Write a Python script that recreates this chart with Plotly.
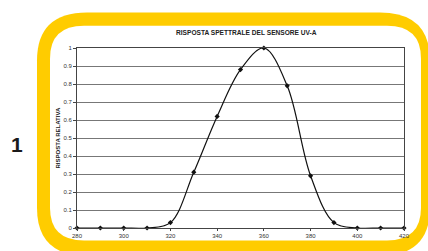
import plotly.graph_objects as go

# Data
wavelength = [280, 290, 300, 310, 320, 330, 340, 350, 360, 370, 380, 390, 400, 410, 420]
response = [0, 0, 0, 0, 0.03, 0.31, 0.62, 0.88, 1.0, 0.79, 0.29, 0.03, 0, 0, 0]
x_ticks = [280, 300, 320, 340, 360, 380, 400, 420]
y_ticks = [0, 0.1, 0.2, 0.3, 0.4, 0.5, 0.6, 0.7, 0.8, 0.9, 1]
y_tick_labels = ["0", "0.1", "0.2", "0.3", "0.4", "0.5", "0.6", "0.7", "0.8", "0.9", "1"]
title_text = "RISPOSTA SPETTRALE DEL SENSORE UV-A"
y_title = "RISPOSTA RELATIVA"

W, H = 428, 251
ML, MR, MT, MB = 77, 24, 48, 16
PW, PH = W - ML - MR, H - MT - MB


def px(x):
    return (x - ML) / PW


def py(y):
    return (H - MB - y) / PH


def rounded_rect(x0, y0, x1, y1, r):
    pts = []
    pts.append(f"M {px(x0 + r)},{py(y0)}")
    pts.append(f"L {px(x1 - r)},{py(y0)}")
    pts.append(f"Q {px(x1)},{py(y0)} {px(x1)},{py(y0 + r)}")
    pts.append(f"L {px(x1)},{py(y1 - r)}")
    pts.append(f"Q {px(x1)},{py(y1)} {px(x1 - r)},{py(y1)}")
    pts.append(f"L {px(x0 + r)},{py(y1)}")
    pts.append(f"Q {px(x0)},{py(y1)} {px(x0)},{py(y1 - r)}")
    pts.append(f"L {px(x0)},{py(y0 + r)}")
    pts.append(f"Q {px(x0)},{py(y0)} {px(x0 + r)},{py(y0)}")
    pts.append("Z")
    return " ".join(pts)


fig = go.Figure()
fig.add_trace(go.Scatter(
    x=wavelength, y=response,
    mode="lines+markers",
    line=dict(color="#111111", width=1.2, shape="spline", smoothing=1.0),
    marker=dict(color="#111111", size=4, symbol="diamond"),
    cliponaxis=False,
    showlegend=False,
))

shapes = [
    dict(type="path", xref="paper", yref="paper", layer="below",
         path=rounded_rect(37, 11, 430, 264, 50),
         fillcolor="#FFCC00", line=dict(width=0)),
    dict(type="path", xref="paper", yref="paper", layer="below",
         path=rounded_rect(50, 25, 421, 248, 34),
         fillcolor="#FFFFFF", line=dict(width=0)),
]

fig.update_layout(
    width=W, height=H,
    margin=dict(l=ML, r=MR, t=MT, b=MB),
    paper_bgcolor="white",
    plot_bgcolor="rgba(0,0,0,0)",
    shapes=shapes,
    font=dict(family="Liberation Sans, Arial, sans-serif", color="#222222"),
    xaxis=dict(
        range=[280, 420], tickvals=x_ticks, ticktext=[str(v) for v in x_ticks],
        showgrid=False, zeroline=False,
        showline=True, linecolor="#444444", linewidth=1, mirror=True,
        ticks="outside", ticklen=2, tickcolor="#444444",
        tickfont=dict(size=6, color="#333333"),
    ),
    yaxis=dict(
        range=[0, 1], tickvals=y_ticks, ticktext=y_tick_labels,
        showgrid=True, gridcolor="#777777", gridwidth=1, zeroline=False,
        showline=True, linecolor="#444444", linewidth=1, mirror=True,
        ticks="outside", ticklen=3, tickcolor="#444444",
        tickfont=dict(size=6, color="#333333"),
    ),
    annotations=[
        dict(text="<b>" + title_text + "</b>", xref="paper", yref="paper",
             x=px(247), y=py(32), xanchor="center", yanchor="middle",
             showarrow=False, font=dict(size=6.6, color="#222222")),
        dict(text="<b>" + y_title + "</b>", xref="paper", yref="paper",
             x=px(58), y=py(142), xanchor="center", yanchor="middle",
             textangle=-90, showarrow=False, font=dict(size=6, color="#222222")),
        dict(text="<b>1</b>", xref="paper", yref="paper",
             x=px(17), y=py(148), xanchor="center", yanchor="middle",
             showarrow=False, font=dict(size=21, color="#1a1a1a")),
    ],
)

fig.write_html(
    "out.html",
    config={"displayModeBar": False},
    post_script="document.body.style.margin='0';document.body.style.overflow='hidden';",
)
